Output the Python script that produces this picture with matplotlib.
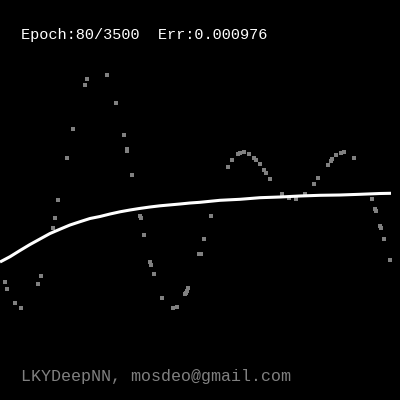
import matplotlib
matplotlib.use("Agg")
import matplotlib.pyplot as plt
import numpy as np

# target samples (gray dots), in screen pixel coords
target_x = [5, 7, 15, 21, 38, 41, 53, 55, 58, 67, 73, 85, 87, 107, 116, 124, 127, 127,
            132, 140, 141, 144, 150, 151, 154, 162, 173, 177, 185, 186, 187, 188, 199,
            201, 204, 211, 228, 232, 238, 240, 244, 249, 254, 256, 260, 264, 266, 270,
            282, 289, 296, 305, 314, 318, 328, 331, 332, 336, 341, 344, 354,
            372, 375, 376, 380, 381, 384, 390]
target_y = [282, 289, 303, 308, 284, 276, 228, 218, 200, 158, 129, 85, 79, 75, 103, 135, 149, 151,
            175, 216, 218, 235, 262, 265, 274, 298, 308, 307, 294, 293, 291, 288, 254,
            254, 239, 216, 167, 160, 154, 153, 152, 154, 158, 160, 164, 170, 173, 179,
            194, 198, 199, 194, 184, 178, 165, 161, 159, 155, 153, 152, 158,
            199, 209, 211, 226, 228, 239, 260]

# network output (white curve)
out_x = [0, 10, 20, 30, 40, 50, 60, 70, 80, 90, 100, 110, 120, 130, 140, 150, 160, 170,
         180, 190, 200, 220, 240, 260, 280, 300, 320, 340, 360, 380, 391]
out_y = [262, 256.7, 250.5, 244.5, 239, 233.5, 229.2, 225, 221.7, 218.5, 216.5, 214, 211.8,
         210, 208.4, 207, 205.8, 204.9, 204, 203, 202.3, 200.3, 199.3, 197.7, 197, 196,
         195.3, 195, 194.3, 193.5, 193.3]

epoch = 80
epochs = 3500
err = 0.000976

fig = plt.figure(figsize=(4, 4), dpi=100, facecolor="black")
ax = fig.add_axes([0, 0, 1, 1])
ax.set_facecolor("black")
ax.set_xlim(0, 400)
ax.set_ylim(400, 0)
ax.axis("off")

ax.plot(target_x, target_y, linestyle="none", marker="s", markersize=2.2,
        color="#808080", markeredgewidth=0)
ax.plot(out_x, out_y, color="white", linewidth=2.2, solid_capstyle="butt")

fig.text(21 / 400, 1 - 39 / 400, "Epoch:%d/%d  Err:%.6f" % (epoch, epochs, err),
         color="white", fontsize=11, family="Liberation Mono", va="baseline", ha="left")
fig.text(21 / 400, 1 - 381 / 400, "LKYDeepNN, mosdeo@gmail.com",
         color="#808080", fontsize=12, family="Liberation Mono", va="baseline", ha="left")

fig.savefig("out.png", dpi=100, facecolor="black")
